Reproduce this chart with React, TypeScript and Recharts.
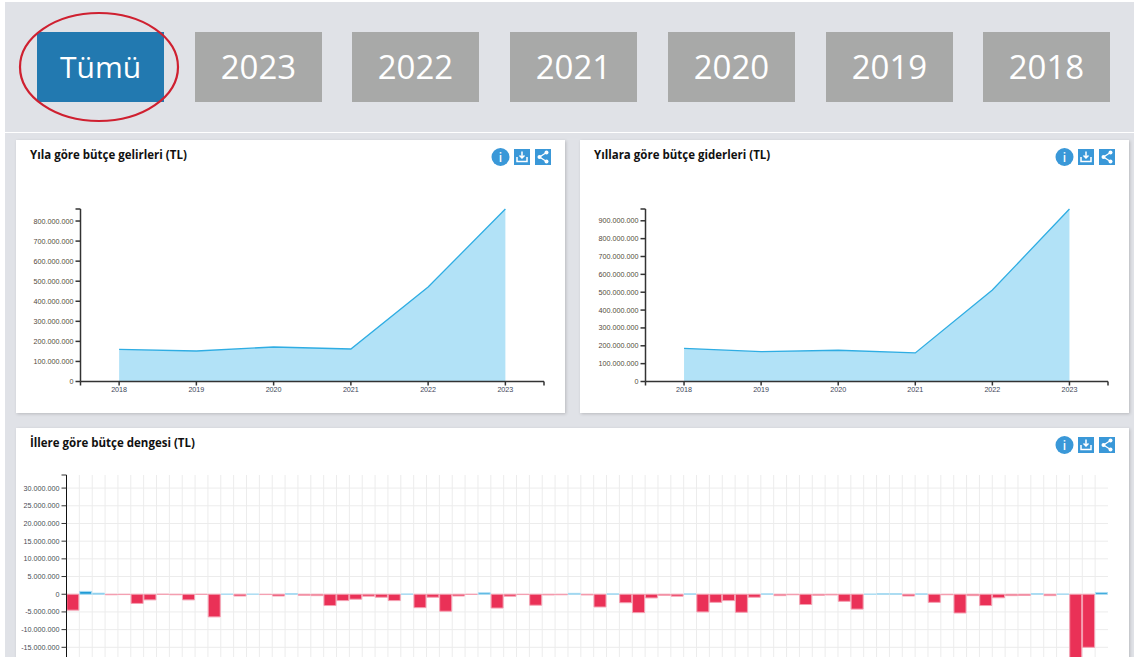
import React from 'react';
import { AreaChart, Area, BarChart, Bar, Cell, CartesianGrid, XAxis, YAxis } from 'recharts';

const years = [2018, 2019, 2020, 2021, 2022, 2023];
const revenue = [160000000, 152000000, 172000000, 162000000, 471000000, 860000000];
const expense = [186000000, 167000000, 175000000, 160000000, 512000000, 966000000];
const revenueTicks = [0, 100000000, 200000000, 300000000, 400000000, 500000000, 600000000, 700000000, 800000000, 860000000];
const expenseTicks = [0, 100000000, 200000000, 300000000, 400000000, 500000000, 600000000, 700000000, 800000000, 900000000, 966000000];
const yearTicks = [2017.5, 2018, 2019, 2020, 2021, 2022, 2023, 2023.5];

const balance = [
    -4.5, 0.8, 0.3, -0.15, -0.1, -2.6, -1.6, -0.02, -0.15, -1.6,
    -0.05, -6.4, 0.02, -0.5, 0.02, -0.1, -0.5, 0.2, -0.3, -0.4,
    -3.2, -1.8, -1.4, -0.55, -0.85, -1.8, 0.05, -3.8, -0.85, -4.8,
    -0.5, -0.05, 0.4, -3.9, -0.55, -0.1, -3.1, -0.2, -0.15, 0.25,
    -0.2, -3.6, 0.1, -2.4, -5.2, -1.05, -0.3, -0.55, 0.1, -5.0,
    -2.3, -1.8, -5.1, -0.85, 0.1, -0.4, -0.15, -2.9, -0.3, -0.2,
    -2.0, -4.2, 0.01, 0.15, 0.15, -0.5, 0.1, -2.3, -0.15, -5.3,
    -0.4, -3.2, -1.0, -0.4, -0.35, 0.2, -0.4, 0.05, -19.5, -15.0,
    0.5,
];
const balanceMin = -20000000;
const balanceMax = 33700000;
const balanceTicks = [-15000000, -10000000, -5000000, 0, 5000000, 10000000, 15000000, 20000000, 25000000, 30000000, balanceMax];
const balanceGrid = [-15000000, -10000000, -5000000, 0, 5000000, 10000000, 15000000, 20000000, 25000000, 30000000];
const yearButtons = ['2023', '2022', '2021', '2020', '2019', '2018'];
const buttonLeft = [195, 352, 510, 668, 826, 983];

const fmt = (v: number) => String(v).replace(/\B(?=(\d{3})+(?!\d))/g, '.');
const tickFont = { fontFamily: 'Liberation Sans, Arial, sans-serif', fontSize: 7.2 };
const axisDark = { stroke: '#333', strokeWidth: 1.5 };
const balanceData = balance.map((v, i) => ({ il: String(i + 1), value: v * 1000000 }));

function Icons({ x, y }: { x: number; y: number }) {
    return (
        <svg style={{ position: 'absolute', left: x, top: y, width: 62, height: 20 }} viewBox="0 0 62 20">
            <circle cx="9.5" cy="10" r="9" fill="#3a98d8" />
            <text x="9.5" y="14.5" textAnchor="middle" fill="#fff" fontSize="12" fontFamily="Open Sans" fontWeight="600">i</text>
            <rect x="23" y="2" width="16" height="16" fill="#3a98d8" />
            <path d="M31 4.5v6M28.5 8.5l2.5 2.5 2.5-2.5M26 10v4.5h10V10" fill="none" stroke="#fff" strokeWidth="1.5" />
            <rect x="44" y="2" width="16" height="16" fill="#3a98d8" />
            <path d="M55.5 5.5L48.5 10l7 4.5" fill="none" stroke="#fff" strokeWidth="1.3" />
            <circle cx="55.5" cy="5.5" r="2" fill="#fff" />
            <circle cx="48.5" cy="10" r="2" fill="#fff" />
            <circle cx="55.5" cy="14.5" r="2" fill="#fff" />
        </svg>
    );
}

function Card({ left, top, width, height, title }: { left: number; top: number; width: number; height: number; title: string }) {
    return (
        <div style={{ position: 'absolute', left, top, width, height, background: '#fff', boxShadow: '1px 1px 3px rgba(0,0,0,0.18)' }}>
            <div style={{ position: 'absolute', left: 14, top: 7, fontFamily: 'Open Sans', fontWeight: 700, fontSize: 11.5, lineHeight: '16px', color: '#111', whiteSpace: 'nowrap' }}>{title}</div>
        </div>
    );
}

function YearArea({ left, values, ticks, max, axisWidth }: { left: number; values: number[]; ticks: number[]; max: number; axisWidth: number }) {
    const data = years.map((y, i) => ({ year: y, value: values[i] }));
    return (
        <div style={{ position: 'absolute', left, top: 200 }}>
            <AreaChart width={549} height={207} data={data} margin={{ top: 9, right: 21, bottom: 0, left: 0 }}>
                <XAxis
                    dataKey="year"
                    type="number"
                    domain={[2017.5, 2023.5]}
                    ticks={yearTicks}
                    interval={0}
                    height={25.5}
                    tick={{ ...tickFont, fill: '#3d4658' }}
                    tickFormatter={(v) => (Number.isInteger(v) ? String(v) : '')}
                    tickSize={4}
                    tickMargin={1}
                    axisLine={axisDark}
                    tickLine={axisDark}
                />
                <YAxis
                    type="number"
                    domain={[0, max]}
                    ticks={ticks}
                    interval={0}
                    width={axisWidth}
                    tick={{ ...tickFont, fill: '#55483c' }}
                    tickFormatter={(v) => (v === max ? '' : fmt(v))}
                    tickSize={5}
                    tickMargin={2}
                    axisLine={axisDark}
                    tickLine={axisDark}
                />
                <Area type="linear" dataKey="value" stroke="#2fade3" strokeWidth={1.3} fill="#b2e2f7" fillOpacity={1} dot={false} isAnimationActive={false} />
            </AreaChart>
        </div>
    );
}

export default function App() {
    return (
        <div style={{ position: 'relative', width: 1134, height: 657, overflow: 'hidden', background: '#fff' }}>
            <style>{'body{margin:0}'}</style>
            <div style={{ position: 'absolute', left: 5, top: 2, right: 0, bottom: 0, background: '#e0e2e7' }} />
            <div style={{ position: 'absolute', left: 5, top: 132, right: 0, height: 1, background: '#fff' }} />

            <div style={{ position: 'absolute', left: 37, top: 32, width: 127, height: 70, background: '#2279b0', color: '#fff', fontFamily: 'Open Sans', fontWeight: 500, fontSize: 30, lineHeight: '70px', textAlign: 'center' }}>Tümü</div>
            {yearButtons.map((y, i) => (
                <div key={y} style={{ position: 'absolute', left: buttonLeft[i], top: 32, width: 127, height: 70, background: '#a8a9a8', color: '#fff', fontFamily: 'Open Sans', fontWeight: 500, fontSize: 33, lineHeight: '70px', textAlign: 'center' }}>{y}</div>
            ))}
            <svg style={{ position: 'absolute', left: 0, top: 0 }} width={200} height={130}>
                <ellipse cx={99} cy={67} rx={79} ry={54} fill="none" stroke="#cf2030" strokeWidth={2.2} />
            </svg>

            <Card left={16} top={140} width={549} height={273} title="Yıla göre bütçe gelirleri (TL)" />
            <Card left={580} top={140} width={549} height={273} title="Yıllara göre bütçe giderleri (TL)" />
            <Card left={16} top={428} width={1113} height={240} title="İllere göre bütçe dengesi (TL)" />
            <Icons x={491} y={147} />
            <Icons x={1055} y={147} />
            <Icons x={1055} y={435} />

            <YearArea left={16} values={revenue} ticks={revenueTicks} max={860000000} axisWidth={64.5} />
            <YearArea left={580} values={expense} ticks={expenseTicks} max={966000000} axisWidth={65.5} />

            <div style={{ position: 'absolute', left: 0, top: 470 }}>
                <BarChart width={1134} height={195} data={balanceData} barCategoryGap={0.3} margin={{ top: 5, right: 26, bottom: 0, left: 0 }}>
                    <CartesianGrid
                        stroke="#ececec"
                        strokeWidth={1}
                        verticalCoordinatesGenerator={({ offset }: any) => balance.map((_, i) => offset.left + (i * offset.width) / balance.length)}
                        horizontalCoordinatesGenerator={({ offset }: any) => balanceGrid.map((v) => offset.top + ((balanceMax - v) / (balanceMax - balanceMin)) * offset.height)}
                    />
                    <XAxis dataKey="il" hide />
                    <YAxis
                        type="number"
                        domain={[balanceMin, balanceMax]}
                        allowDataOverflow
                        ticks={balanceTicks}
                        interval={0}
                        width={66.5}
                        tick={{ ...tickFont, fill: '#4a4a55' }}
                        tickFormatter={(v) => (v === balanceMax ? '' : v < 0 ? '-' + fmt(-v) : fmt(v))}
                        tickSize={5}
                        tickMargin={2}
                        axisLine={{ stroke: '#111', strokeWidth: 1 }}
                        tickLine={{ stroke: '#333', strokeWidth: 1 }}
                    />
                    <Bar dataKey="value" strokeWidth={1} isAnimationActive={false}>
                        {balanceData.map((d) => (
                            <Cell key={d.il} fill={d.value < 0 ? '#ea3157' : '#1f9bd6'} stroke={d.value < 0 ? '#f5a0b2' : '#a9dcf3'} />
                        ))}
                    </Bar>
                </BarChart>
            </div>
        </div>
    );
}
